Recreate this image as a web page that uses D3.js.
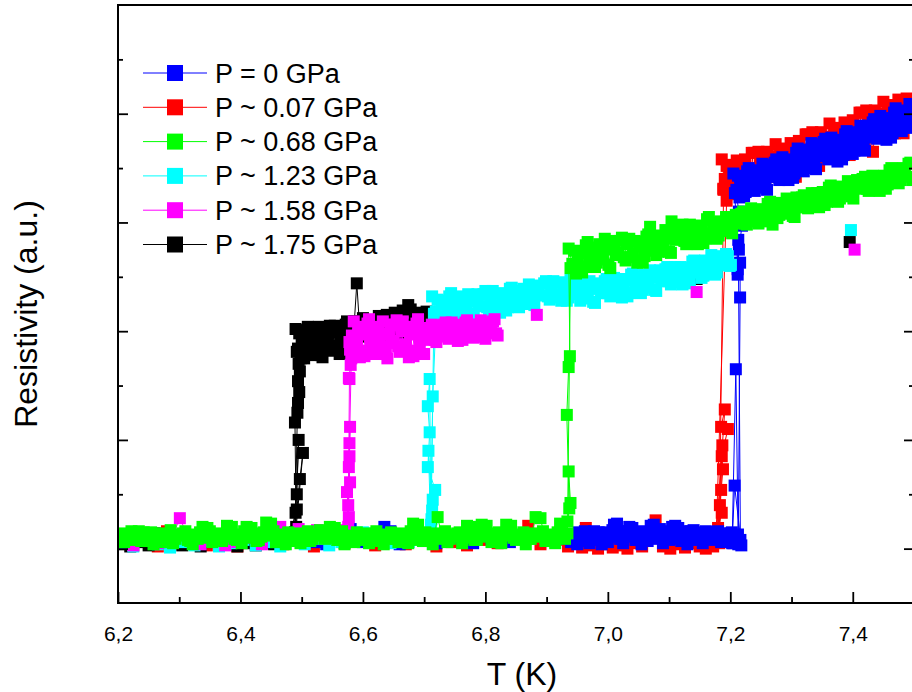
<!DOCTYPE html>
<html>
<head>
<meta charset="utf-8">
<script src="https://cdn.jsdelivr.net/npm/d3@7"></script>
<style>
  html, body { margin: 0; padding: 0; background: #fff; }
  svg { display: block; font-family: Arial, "Liberation Sans", sans-serif; }
</style>
</head>
<body>
<div id="chart"></div>
<script>
// Resistivity vs temperature under pressure — superconducting transitions.
// Each pressure has two temperature runs: [T (K), resistivity (a.u.)];
// null breaks the connecting line.

const seriesNames = ["P = 0 GPa", "P ~ 0.07 GPa", "P ~ 0.68 GPa",
                     "P ~ 1.23 GPa", "P ~ 1.58 GPa", "P ~ 1.75 GPa"];

const xMajorTicks = [6.2, 6.4, 6.6, 6.8, 7.0, 7.2, 7.4];
const xMinorTicks = [6.3, 6.5, 6.7, 6.9, 7.1, 7.3];
const yMajorTicks = [0, 1, 2, 3, 4];
const yMinorTicks = [0.5, 1.5, 2.5, 3.5, 4.5];

// ── P = 0 GPa ──────────────────────────────────────────────────────────────
const p000run1 = [
  [6.21,0.06],[6.24,0.09],[6.27,0.05],[6.30,0.08],[6.33,0.04],[6.36,0.10],[6.39,0.06],[6.42,0.08],
  [6.45,0.05],[6.47,0.09],[6.49,0.15],[6.51,0.12],[6.525,0.06],[6.54,0.04],[6.56,0.08],[6.58,0.18],
  [6.60,0.06],[6.62,0.09],[6.635,0.20],[6.645,0.16],[6.66,0.04],[6.68,0.10],[6.70,0.07],[6.72,0.05],
  [6.75,0.10],[6.78,0.05],[6.81,0.09],[6.84,0.06],[6.87,0.11],[6.90,0.07],[6.93,0.09],
  [6.940,0.06],[6.945,0.10],[6.950,0.04],[6.955,0.12],[6.960,0.07],[6.965,0.14],[6.970,0.05],
  [6.975,0.11],[6.980,0.08],[6.985,0.15],[6.990,0.04],[6.995,0.10],[7.000,0.06],[7.005,0.13],
  [7.010,0.22],[7.015,0.23],[7.020,0.09],[7.025,0.05],[7.030,0.12],[7.035,0.20],[7.040,0.19],
  [7.045,0.08],[7.050,0.14],[7.055,0.04],[7.060,0.11],[7.065,0.07],[7.070,0.21],[7.075,0.22],
  [7.080,0.10],[7.085,0.18],[7.090,0.05],[7.095,0.12],[7.100,0.08],[7.105,0.20],[7.110,0.21],
  [7.115,0.19],[7.120,0.07],[7.125,0.12],[7.130,0.04],[7.135,0.16],[7.140,0.17],[7.145,0.09],
  [7.150,0.13],[7.155,0.05],[7.160,0.16],[7.165,0.15],[7.170,0.08],[7.175,0.12],[7.180,0.16],
  [7.185,0.06],[7.190,0.13],[7.195,0.09],[7.200,0.14],[7.205,0.05],[7.210,0.10],[7.214,0.07],
  [7.218,0.03],
  [7.207,0.58],[7.203,0.05],[7.209,1.65],[7.213,0.04],[7.216,2.31],[7.216,2.63],[7.212,2.52],
  [7.214,2.75],[7.219,2.97],[7.214,3.10],
  [7.205,3.45],[7.210,3.30],[7.215,3.23],[7.220,3.41],[7.225,3.28],[7.230,3.50],[7.235,3.38],
  [7.240,3.29],[7.245,3.48],[7.250,3.36],[7.255,3.45],[7.260,3.30],[7.265,3.53],[7.270,3.44],
  [7.275,3.58],[7.280,3.39],[7.285,3.60],[7.290,3.45],[7.295,3.39],[7.300,3.57],[7.305,3.45],
  [7.310,3.68],[7.315,3.56],[7.320,3.47],[7.325,3.67],[7.330,3.55],[7.335,3.64],[7.340,3.49],
  [7.345,3.72],[7.350,3.63],[7.355,3.77],[7.360,3.58],[7.365,3.78],[7.370,3.63],[7.375,3.56],
  [7.380,3.74],[7.385,3.62],[7.390,3.84],[7.395,3.72],[7.400,3.63],[7.405,3.83],[7.410,3.71],
  [7.415,3.81],[7.420,3.66],[7.425,3.89],[7.430,3.81],[7.435,3.95],[7.440,3.77],[7.445,3.98],
  [7.450,3.83],[7.455,3.76],[7.460,3.94],[7.465,3.82],[7.470,4.05],[7.475,3.93],[7.480,3.84],
  [7.485,4.03],[7.490,3.91],[7.495,4.00]
];
const p000run2 = [
  [6.9425,0.13],[6.9475,0.09],[6.9525,0.15],[6.9575,0.10],[6.9625,0.16],[6.9675,0.08],[6.9725,0.13],
  [6.9775,0.16],[6.9825,0.10],[6.9875,0.14],[6.9925,0.08],[6.9975,0.15],[7.0025,0.11],[7.0075,0.17],
  [7.0125,0.12],[7.0175,0.16],[7.0225,0.09],[7.0275,0.14],[7.0325,0.16],[7.0375,0.11],[7.0425,0.15],
  [7.0475,0.08],[7.0525,0.13],[7.0575,0.16],[7.0625,0.10],[7.0675,0.15],[7.0725,0.12],[7.0775,0.17],
  [7.0825,0.09],[7.0875,0.14],[7.0925,0.16],[7.0975,0.10],[7.1025,0.15],[7.1075,0.12],[7.1125,0.16],
  [7.1175,0.09],[7.1225,0.14],[7.1275,0.16],[7.1325,0.10],[7.1375,0.13],[7.1425,0.08],[7.1475,0.15],
  [7.1525,0.11],[7.1575,0.14],[7.1625,0.09],[7.1675,0.13],[7.1725,0.15],[7.1775,0.10],[7.1825,0.12],
  [7.1875,0.14],[7.1925,0.09],[7.1975,0.12],[7.2025,0.15],[7.2075,0.11],[7.2125,0.13],[7.2165,0.08],
  [7.213,2.84],[7.212,2.57],
  [7.2075,3.27],[7.2125,3.43],[7.2175,3.39],[7.2225,3.24],[7.2275,3.47],[7.2325,3.34],[7.2375,3.46],
  [7.2425,3.32],[7.2475,3.41],[7.2525,3.54],[7.2575,3.33],[7.2625,3.48],[7.2675,3.42],[7.2725,3.55],
  [7.2775,3.42],[7.2825,3.53],[7.2875,3.42],[7.2925,3.58],[7.2975,3.55],[7.3025,3.41],[7.3075,3.64],
  [7.3125,3.52],[7.3175,3.64],[7.3225,3.50],[7.3275,3.60],[7.3325,3.73],[7.3375,3.52],[7.3425,3.67],
  [7.3475,3.61],[7.3525,3.74],[7.3575,3.61],[7.3625,3.71],[7.3675,3.60],[7.3725,3.76],[7.3775,3.72],
  [7.3825,3.58],[7.3875,3.81],[7.3925,3.68],[7.3975,3.80],[7.4025,3.66],[7.4075,3.76],[7.4125,3.89],
  [7.4175,3.69],[7.4225,3.84],[7.4275,3.78],[7.4325,3.92],[7.4375,3.79],[7.4425,3.91],[7.4475,3.80],
  [7.4525,3.96],[7.4575,3.92],[7.4625,3.78],[7.4675,4.01],[7.4725,3.89],[7.4775,4.01],[7.4825,3.87],
  [7.4875,3.96],[7.4925,4.09],[7.4975,3.87]
];

// ── P ~ 0.07 GPa ───────────────────────────────────────────────────────────
const p007run1 = [
  [6.201,0.05],[6.21,0.12],[6.225,0.03],[6.245,0.08],[6.265,0.02],[6.28,0.16],[6.30,0.05],[6.32,0.09],
  [6.345,0.03],[6.37,0.07],[6.395,0.02],[6.42,0.06],[6.445,0.11],[6.47,0.04],[6.495,0.07],[6.52,0.02],
  [6.545,0.08],[6.57,0.05],[6.595,0.10],[6.62,0.03],[6.645,0.07],[6.67,0.04],[6.695,0.09],[6.72,0.02],
  [6.745,0.06],[6.77,0.03],[6.795,0.08],[6.82,0.05],[6.845,0.11],[6.87,0.21],[6.89,0.04],[6.915,0.08],
  [6.935,0.02],[6.947,0.05],[6.958,0.01],[6.964,0.19],[6.972,0.03],[6.984,0.00],[6.996,0.04],
  [7.008,0.01],[7.020,0.03],[7.032,0.00],[7.044,0.05],[7.056,0.02],[7.068,0.14],[7.078,0.26],
  [7.090,0.02],[7.102,0.00],[7.114,0.04],[7.126,0.01],[7.138,0.05],[7.150,0.02],[7.160,0.00],
  [7.168,0.04],[7.172,0.02],
  [7.176,0.15],[7.186,0.33],[7.180,0.19],[7.185,0.54],[7.188,0.73],[7.186,0.85],[7.196,1.10],
  [7.185,1.12],[7.191,1.28],[7.177,0.12],[7.194,3.20],
  [7.186,3.58],[7.191,3.40],[7.197,3.27],[7.202,3.53],[7.208,3.35],[7.213,3.47],[7.219,3.26],
  [7.224,3.58],[7.230,3.44],[7.235,3.64],[7.241,3.36],[7.246,3.65],[7.252,3.45],[7.257,3.34],
  [7.263,3.59],[7.268,3.42],[7.274,3.72],[7.279,3.55],[7.285,3.42],[7.290,3.68],[7.296,3.51],
  [7.301,3.63],[7.307,3.42],[7.312,3.75],[7.318,3.61],[7.323,3.81],[7.329,3.54],[7.334,3.83],
  [7.340,3.63],[7.345,3.52],[7.351,3.77],[7.356,3.60],[7.362,3.91],[7.367,3.74],[7.373,3.61],
  [7.378,3.87],[7.384,3.70],[7.389,3.83],[7.395,3.62],[7.400,3.94],[7.406,3.81],[7.411,4.01],
  [7.417,3.73],[7.422,4.03],[7.428,3.83],[7.433,3.65],[7.439,3.98],[7.444,3.81],[7.450,4.11],
  [7.455,3.94],[7.461,3.82],[7.466,4.08],[7.472,3.91],[7.477,4.03],[7.483,3.82],[7.488,4.14],
  [7.494,4.01]
];
const p007run2 = [
  [7.170,0.03],[7.183,0.40],[7.178,0.08],[7.187,0.95],[7.182,0.05],[7.189,3.30],
  [7.1885,3.31],[7.194,3.52],[7.1995,3.46],[7.205,3.26],[7.2105,3.57],[7.216,3.39],[7.2215,3.54],
  [7.227,3.35],[7.2325,3.47],[7.238,3.64],[7.2435,3.35],[7.249,3.55],[7.2545,3.47],[7.260,3.65],
  [7.2655,3.46],[7.271,3.61],[7.2765,3.46],[7.282,3.67],[7.2875,3.61],[7.293,3.42],[7.2985,3.73],
  [7.304,3.55],[7.3095,3.70],[7.315,3.52],[7.3205,3.64],[7.326,3.81],[7.3315,3.53],[7.337,3.73],
  [7.3425,3.65],[7.348,3.83],[7.3535,3.64],[7.359,3.79],[7.3645,3.65],[7.370,3.86],[7.3755,3.80],
  [7.381,3.61],[7.3865,3.92],[7.392,3.75],[7.3975,3.90],[7.403,3.71],[7.4085,3.84],[7.414,4.01],
  [7.4195,3.72],[7.425,3.93],[7.4305,3.85],[7.436,4.03],[7.4415,3.85],[7.447,4.00],[7.4525,3.85],
  [7.458,4.06],[7.4635,4.01],[7.469,3.82],[7.4745,4.13],[7.480,3.95],[7.4855,4.10],[7.491,3.91],
  [7.4965,4.03]
];

// ── P ~ 0.68 GPa ───────────────────────────────────────────────────────────
const p068run1 = [
  [6.202,0.10],[6.210,0.06],[6.218,0.12],[6.226,0.08],[6.234,0.16],[6.242,0.15],[6.250,0.07],
  [6.258,0.04],[6.266,0.10],[6.274,0.06],[6.282,0.11],[6.290,0.05],[6.298,0.13],[6.306,0.14],
  [6.314,0.08],[6.322,0.04],[6.330,0.09],[6.338,0.20],[6.346,0.19],[6.354,0.06],[6.362,0.11],
  [6.370,0.07],[6.378,0.21],[6.386,0.20],[6.394,0.08],[6.402,0.05],[6.410,0.20],[6.418,0.19],
  [6.426,0.07],[6.434,0.11],[6.442,0.24],[6.450,0.23],[6.458,0.06],[6.466,0.10],[6.474,0.04],
  [6.482,0.09],[6.490,0.12],[6.498,0.05],[6.506,0.10],[6.514,0.07],[6.522,0.12],[6.530,0.17],
  [6.538,0.09],[6.546,0.20],[6.554,0.19],[6.562,0.08],[6.570,0.04],[6.578,0.10],[6.586,0.06],
  [6.594,0.12],[6.602,0.08],[6.610,0.05],[6.618,0.11],[6.626,0.07],[6.634,0.04],[6.642,0.09],
  [6.650,0.13],[6.658,0.06],[6.666,0.10],[6.674,0.05],[6.682,0.23],[6.690,0.22],[6.698,0.07],
  [6.706,0.12],[6.714,0.04],[6.722,0.29],[6.730,0.09],[6.738,0.06],[6.746,0.11],[6.754,0.14],
  [6.762,0.05],[6.770,0.21],[6.778,0.20],[6.786,0.08],[6.794,0.22],[6.802,0.21],[6.810,0.06],
  [6.818,0.10],[6.826,0.05],[6.834,0.22],[6.842,0.21],[6.850,0.08],[6.858,0.11],[6.866,0.04],
  [6.874,0.09],[6.882,0.29],[6.890,0.28],[6.898,0.07],[6.906,0.11],[6.914,0.05],[6.922,0.23],
  [6.930,0.09],
  [6.934,0.25],[6.939,0.42],[6.936,0.71],[6.937,0.37],[6.933,1.23],[6.936,1.67],[6.938,1.77],
  [6.936,2.76],[6.942,2.62],[6.948,2.53],[6.955,2.72],[6.961,2.59],[6.967,2.82],[6.973,2.69],
  [6.979,2.59],[6.986,2.80],[6.992,2.66],[6.998,2.75],[7.004,2.58],[7.010,2.83],[7.017,2.72],
  [7.023,2.86],[7.029,2.65],[7.035,2.85],[7.041,2.71],[7.048,2.63],[7.054,2.82],[7.060,2.69],
  [7.066,2.89],[7.069,2.96],[7.072,2.78],[7.079,2.70],[7.085,2.88],[7.091,2.77],[7.097,2.85],
  [7.103,2.72],[7.104,3.01],[7.110,2.94],[7.116,2.85],[7.122,2.98],[7.128,2.80],[7.134,2.98],
  [7.141,2.86],[7.147,2.80],[7.153,2.97],[7.159,2.85],[7.165,3.05],[7.172,2.94],[7.178,2.85],
  [7.184,3.01],[7.190,2.93],[7.196,3.00],[7.203,2.90],[7.209,3.07],[7.215,3.00],[7.221,3.10],
  [7.227,2.98],[7.234,3.13],[7.240,3.04],[7.246,2.99],[7.252,3.12],[7.258,3.04],[7.265,3.19],
  [7.269,2.98],[7.271,3.11],[7.277,3.04],[7.283,3.18],[7.289,3.10],[7.296,3.16],[7.302,3.06],
  [7.305,3.05],[7.308,3.23],[7.314,3.15],[7.320,3.25],[7.327,3.13],[7.333,3.27],[7.339,3.19],
  [7.345,3.14],[7.351,3.28],[7.358,3.19],[7.364,3.34],[7.370,3.26],[7.376,3.19],[7.382,3.33],
  [7.389,3.26],[7.395,3.32],[7.401,3.22],[7.407,3.39],[7.413,3.32],[7.420,3.42],[7.426,3.29],
  [7.432,3.43],[7.438,3.35],[7.444,3.29],[7.451,3.43],[7.457,3.35],[7.463,3.50],[7.469,3.42],
  [7.475,3.36],[7.482,3.50],[7.488,3.42],[7.494,3.55]
];
const p068run2 = [
  [6.206,0.14],[6.214,0.09],[6.222,0.16],[6.230,0.11],[6.238,0.07],[6.246,0.13],[6.254,0.15],
  [6.262,0.08],[6.270,0.14],[6.278,0.10],[6.286,0.17],[6.294,0.09],[6.302,0.12],[6.310,0.16],
  [6.318,0.07],[6.326,0.13],[6.334,0.15],[6.342,0.10],[6.350,0.16],[6.358,0.08],[6.366,0.14],
  [6.374,0.11],[6.382,0.15],[6.390,0.09],[6.398,0.13],[6.406,0.16],[6.414,0.10],[6.422,0.14],
  [6.430,0.08],[6.438,0.15],[6.446,0.12],[6.454,0.16],[6.462,0.09],[6.470,0.13],[6.478,0.15],
  [6.486,0.07],[6.494,0.14],[6.502,0.11],[6.510,0.16],[6.518,0.09],[6.526,0.13],[6.534,0.15],
  [6.542,0.10],[6.550,0.14],[6.558,0.08],[6.566,0.16],[6.574,0.12],[6.582,0.09],[6.590,0.15],
  [6.598,0.11],[6.606,0.14],[6.614,0.08],[6.622,0.16],[6.630,0.10],[6.638,0.13],[6.646,0.15],
  [6.654,0.09],[6.662,0.14],[6.670,0.11],[6.678,0.16],[6.686,0.08],[6.694,0.13],[6.702,0.15],
  [6.710,0.10],[6.718,0.14],[6.726,0.12],[6.734,0.16],[6.742,0.09],[6.750,0.13],[6.758,0.15],
  [6.766,0.10],[6.774,0.14],[6.782,0.08],[6.790,0.16],[6.798,0.11],[6.806,0.14],[6.814,0.09],
  [6.822,0.15],[6.830,0.12],[6.838,0.16],[6.846,0.10],[6.854,0.13],[6.862,0.15],[6.870,0.09],
  [6.878,0.14],[6.886,0.11],[6.894,0.16],[6.902,0.08],[6.910,0.13],[6.918,0.15],[6.926,0.10],
  [6.934,0.14],
  [6.939,2.58],[6.945,2.74],[6.951,2.69],[6.958,2.54],[6.964,2.79],[6.970,2.65],[6.976,2.77],
  [6.982,2.63],[6.989,2.71],[6.995,2.85],[7.001,2.61],[7.007,2.77],[7.013,2.70],[7.020,2.83],
  [7.026,2.68],[7.032,2.80],[7.038,2.68],[7.044,2.83],[7.051,2.78],[7.057,2.63],[7.063,2.87],
  [7.069,2.74],[7.075,2.85],[7.082,2.73],[7.088,2.81],[7.094,2.93],[7.100,2.73],[7.106,2.89],
  [7.113,2.84],[7.119,2.95],[7.125,2.83],[7.131,2.93],[7.137,2.83],[7.144,2.97],[7.150,2.93],
  [7.156,2.81],[7.162,3.03],[7.168,2.90],[7.175,3.00],[7.181,2.88],[7.187,2.96],[7.193,3.05],
  [7.199,2.92],[7.206,3.03],[7.212,2.99],[7.218,3.08],[7.224,2.99],[7.230,3.09],[7.237,3.01],
  [7.243,3.12],[7.249,3.10],[7.255,3.01],[7.261,3.17],[7.268,3.08],[7.274,3.16],[7.280,3.07],
  [7.286,3.13],[7.292,3.22],[7.299,3.08],[7.305,3.19],[7.311,3.14],[7.317,3.23],[7.323,3.14],
  [7.330,3.24],[7.336,3.16],[7.342,3.27],[7.348,3.25],[7.354,3.16],[7.361,3.32],[7.367,3.23],
  [7.373,3.31],[7.379,3.22],[7.385,3.28],[7.392,3.38],[7.398,3.24],[7.404,3.35],[7.410,3.31],
  [7.416,3.40],[7.423,3.31],[7.429,3.40],[7.435,3.32],[7.441,3.42],[7.447,3.40],[7.454,3.31],
  [7.460,3.48],[7.466,3.39],[7.472,3.48],[7.478,3.39],[7.485,3.45],[7.491,3.54],[7.497,3.39]
];

// ── P ~ 1.23 GPa ───────────────────────────────────────────────────────────
const p123run1 = [
  [6.205,0.05],[6.225,0.02],[6.245,0.08],[6.265,0.04],[6.285,0.01],[6.305,0.06],[6.325,0.03],
  [6.345,0.07],[6.365,0.02],[6.385,0.05],[6.405,0.08],[6.425,0.03],[6.445,0.06],[6.465,0.02],
  [6.485,0.07],[6.505,0.04],[6.525,0.09],[6.545,0.03],[6.565,0.06],[6.585,0.10],[6.600,0.15],
  [6.615,0.14],[6.630,0.12],[6.645,0.05],[6.660,0.09],[6.675,0.06],[6.690,0.11],[6.702,0.08],
  [6.712,0.27],[6.714,0.45],[6.718,0.54],[6.706,0.75],[6.709,1.07],[6.706,1.31],[6.709,1.56],
  [6.711,0.22],[6.716,2.15],
  [6.713,2.32],[6.719,2.18],[6.725,2.10],[6.731,2.28],[6.738,2.15],[6.744,2.35],[6.750,2.23],
  [6.756,2.14],[6.762,2.32],[6.769,2.19],[6.775,2.27],[6.781,2.14],[6.787,2.34],[6.793,2.23],
  [6.800,2.37],[6.806,2.18],[6.812,2.37],[6.818,2.23],[6.824,2.17],[6.831,2.34],[6.837,2.22],
  [6.843,2.40],[6.849,2.30],[6.855,2.22],[6.862,2.39],[6.868,2.27],[6.874,2.36],[6.880,2.24],
  [6.886,2.42],[6.893,2.33],[6.899,2.46],[6.905,2.29],[6.911,2.46],[6.917,2.33],[6.924,2.28],
  [6.930,2.43],[6.936,2.31],[6.942,2.47],[6.948,2.37],[6.955,2.28],[6.961,2.44],[6.967,2.31],
  [6.973,2.39],[6.979,2.26],[6.986,2.44],[6.992,2.35],[6.998,2.48],[7.004,2.32],[7.010,2.49],
  [7.017,2.36],[7.023,2.31],[7.029,2.47],[7.035,2.35],[7.041,2.53],[7.048,2.44],[7.054,2.35],
  [7.060,2.52],[7.066,2.40],[7.072,2.49],[7.079,2.37],[7.085,2.56],[7.091,2.46],[7.097,2.59],
  [7.103,2.43],[7.110,2.59],[7.116,2.47],[7.122,2.43],[7.128,2.58],[7.134,2.47],[7.141,2.65],
  [7.147,2.57],[7.153,2.49],[7.159,2.65],[7.165,2.54],[7.172,2.63],[7.178,2.54],[7.184,2.69],
  [7.190,2.61],[7.196,2.69],[7.201,2.61],
  null,
  [7.397,2.93]
];
const p123run2 = [
  [6.700,0.12],[6.713,0.35],[6.707,0.90],[6.711,0.15],[6.714,1.40],[6.719,2.05],
  [6.716,2.16],[6.722,2.29],[6.728,2.25],[6.734,2.13],[6.741,2.32],[6.747,2.20],[6.753,2.30],
  [6.759,2.17],[6.766,2.24],[6.772,2.34],[6.778,2.16],[6.784,2.28],[6.790,2.23],[6.797,2.34],
  [6.803,2.22],[6.809,2.31],[6.815,2.21],[6.821,2.35],[6.828,2.31],[6.834,2.19],[6.840,2.39],
  [6.846,2.27],[6.852,2.37],[6.859,2.25],[6.865,2.32],[6.871,2.43],[6.877,2.25],[6.883,2.37],
  [6.890,2.33],[6.896,2.44],[6.902,2.32],[6.908,2.41],[6.914,2.31],[6.921,2.45],[6.927,2.40],
  [6.933,2.28],[6.939,2.47],[6.945,2.34],[6.952,2.43],[6.958,2.30],[6.964,2.37],[6.970,2.46],
  [6.976,2.27],[6.983,2.39],[6.989,2.35],[6.995,2.46],[7.001,2.35],[7.007,2.44],[7.014,2.34],
  [7.020,2.48],[7.026,2.44],[7.032,2.32],[7.038,2.52],[7.045,2.41],[7.051,2.50],[7.057,2.38],
  [7.063,2.45],[7.069,2.56],[7.076,2.38],[7.082,2.51],[7.088,2.46],[7.094,2.57],[7.100,2.46],
  [7.107,2.54],[7.113,2.45],[7.119,2.59],[7.125,2.55],[7.131,2.44],[7.138,2.64],[7.144,2.54],
  [7.150,2.63],[7.156,2.51],[7.162,2.59],[7.169,2.70],[7.175,2.52],[7.181,2.65],[7.187,2.61],
  [7.193,2.71],[7.199,2.60]
];

// ── P ~ 1.58 GPa ───────────────────────────────────────────────────────────
const p158run1 = [
  [6.205,0.07],[6.225,0.03],[6.245,0.09],[6.265,0.05],[6.285,0.06],[6.301,0.28],[6.315,0.10],
  [6.335,0.04],[6.355,0.08],[6.375,0.03],[6.395,0.06],[6.415,0.10],[6.435,0.04],[6.450,0.16],
  [6.465,0.20],[6.480,0.13],[6.495,0.18],[6.510,0.08],[6.525,0.17],[6.540,0.12],[6.555,0.15],
  [6.565,0.09],[6.572,0.17],
  [6.577,0.29],[6.574,0.52],[6.579,0.61],[6.577,0.75],[6.578,0.97],[6.579,1.12],[6.576,0.20],
  [6.578,1.56],
  [6.577,1.57],[6.580,1.69],[6.579,1.83],[6.582,1.96],
  [6.585,2.09],[6.590,1.88],[6.595,1.76],[6.600,2.00],[6.605,1.82],[6.610,2.11],[6.615,1.93],
  [6.620,1.79],[6.625,2.04],[6.630,1.86],[6.635,1.97],[6.640,1.75],[6.645,2.06],[6.650,1.91],
  [6.655,2.10],[6.660,1.81],[6.665,2.09],[6.670,1.88],[6.675,1.76],[6.680,2.00],[6.685,1.82],
  [6.690,2.11],[6.695,1.93],[6.700,1.79],[6.705,2.03],[6.710,1.94],[6.715,2.00],[6.720,1.90],
  [6.725,2.05],[6.730,1.98],[6.735,2.08],[6.740,1.93],[6.745,2.08],[6.750,1.97],[6.755,1.91],
  [6.760,2.04],[6.765,1.95],[6.770,2.10],[6.775,2.01],[6.780,1.94],[6.785,2.06],[6.790,1.97],
  [6.795,2.04],[6.800,1.93],[6.805,2.08],[6.810,2.01],[6.815,2.11],[6.820,1.96],
  null,
  [6.884,2.15],
  null,
  [7.145,2.36],
  null,
  [7.403,2.75]
];
const p158run2 = [
  [6.570,0.10],[6.576,0.40],[6.578,0.85],[6.575,0.15],[6.581,1.75],[6.578,1.90],
  [6.5875,1.84],[6.5925,2.04],[6.5975,1.97],[6.6025,1.77],[6.6075,2.07],[6.6125,1.88],[6.6175,2.02],
  [6.6225,1.82],[6.6275,1.93],[6.6325,2.09],[6.6375,1.79],[6.6425,1.98],[6.6475,1.89],[6.6525,2.06],
  [6.6575,1.86],[6.6625,2.00],[6.6675,1.84],[6.6725,2.04],[6.6775,1.97],[6.6825,1.77],[6.6875,2.07],
  [6.6925,1.88],[6.6975,2.02],[6.7025,1.92],[6.7075,1.98],[6.7125,2.06],[6.7175,1.92],[6.7225,2.02],
  [6.7275,1.97],[6.7325,2.06],[6.7375,1.95],[6.7425,2.04],[6.7475,1.95],[6.7525,2.06],[6.7575,2.02],
  [6.7625,1.92],[6.7675,2.08],[6.7725,1.98],[6.7775,2.06],[6.7825,1.95],[6.7875,2.01],[6.7925,2.10],
  [6.7975,1.95],[6.8025,2.05],[6.8075,2.00],[6.8125,2.09],[6.8175,1.98]
];

// ── P ~ 1.75 GPa ───────────────────────────────────────────────────────────
const p175run1 = [
  [6.205,0.04],[6.220,0.02],[6.235,0.06],[6.250,0.03],[6.260,0.14],[6.275,0.05],[6.290,0.10],
  [6.305,0.03],[6.320,0.07],[6.335,0.02],[6.350,0.06],[6.365,0.03],[6.380,0.08],[6.395,0.02],
  [6.410,0.05],[6.425,0.03],[6.440,0.07],[6.455,0.04],[6.470,0.06],[6.482,0.12],
  [6.490,0.33],[6.492,0.36],[6.497,0.64],[6.502,0.88],[6.491,0.20],[6.489,1.16],[6.494,1.34],
  [6.496,1.44],[6.494,1.54],[6.497,1.63],
  [6.490,2.02],[6.494,1.84],[6.498,1.75],[6.502,1.95],[6.506,1.80],[6.510,2.04],[6.514,1.90],
  [6.518,1.78],[6.522,1.99],[6.526,1.84],[6.530,1.93],[6.534,1.76],[6.538,2.01],[6.542,1.89],
  [6.546,2.05],[6.550,1.82],[6.554,2.05],[6.558,1.87],[6.562,1.79],[6.566,1.99],[6.570,1.85],
  [6.574,2.09],[6.578,1.94],[6.582,1.82],[6.586,2.09],[6.590,2.44],[6.594,2.09],
  [6.600,2.12],[6.606,1.95],[6.613,2.10],[6.619,2.01],[6.626,2.14],[6.632,1.92],[6.639,2.15],
  [6.645,2.03],[6.652,2.17],[6.658,1.98],[6.665,2.19],[6.671,2.06],[6.674,2.24],[6.678,2.20],
  [6.684,2.10],[6.691,2.17],[6.697,2.04],[6.704,2.18],[6.710,2.09],[6.717,2.14],[6.723,2.06],
  [6.728,2.12],
  null,
  [7.145,2.48],
  null,
  [7.395,2.82]
];
const p175run2 = [
  [6.484,0.08],[6.492,0.50],[6.495,1.00],[6.489,0.15],[6.493,1.25],[6.495,1.70],
  [6.492,1.81],[6.496,1.98],[6.500,1.92],[6.504,1.75],[6.508,2.01],[6.512,1.85],[6.516,1.98],
  [6.520,1.81],[6.524,1.90],[6.528,2.04],[6.532,1.78],[6.536,1.96],[6.540,1.88],[6.544,2.02],
  [6.548,1.86],[6.552,1.99],[6.556,1.86],[6.560,2.03],[6.564,1.97],[6.568,1.80],[6.572,2.06],
  [6.576,1.89],[6.580,2.03],[6.584,1.86],[6.588,1.95]
];

const runs = [
  [p000run1, p000run2], [p007run1, p007run2], [p068run1, p068run2],
  [p123run1, p123run2], [p158run1, p158run2], [p175run1, p175run2]
];

// ── Styling ────────────────────────────────────────────────────────────────
const colors    = ["#0000ff", "#ff0000", "#00ff00", "#00ffff", "#ff00ff", "#000000"];
const drawOrder = [1, 0, 5, 3, 4, 2];   // green sits on top, as in the scan
const W = 912, H = 692;
const plot = { left: 118, right: 914, top: 5, bottom: 603 };
const markerSize = 12;

const svg = d3.select("#chart").append("svg")
  .attr("width", W)
  .attr("height", H);

const x = d3.scaleLinear().domain([6.2, 7.5]).range([plot.left, plot.right]);
const y = d3.scaleLinear().domain([-0.5, 5]).range([plot.bottom, plot.top]);

svg.append("clipPath").attr("id", "plot-clip")
  .append("rect")
  .attr("x", plot.left).attr("y", plot.top)
  .attr("width", plot.right - plot.left)
  .attr("height", plot.bottom - plot.top);

// ── Series ─────────────────────────────────────────────────────────────────
const gData = svg.append("g").attr("clip-path", "url(#plot-clip)");

const line = d3.line()
  .defined(d => d !== null)
  .x(d => x(d[0]))
  .y(d => y(d[1]));

drawOrder.forEach(i => {
  const g = gData.append("g").attr("class", "series-" + i);
  runs[i].forEach(run => {
    g.append("path")
      .attr("d", line(run))
      .attr("fill", "none")
      .attr("stroke", colors[i])
      .attr("stroke-width", 1);
  });
  const pts = runs[i].flat().filter(d => d !== null);
  g.selectAll("rect")
    .data(pts)
    .join("rect")
    .attr("x", d => x(d[0]) - markerSize / 2)
    .attr("y", d => y(d[1]) - markerSize / 2)
    .attr("width", markerSize)
    .attr("height", markerSize)
    .attr("fill", colors[i]);
});

// ── Axes (ticks point inward) ──────────────────────────────────────────────
const styleAxis = g => {
  g.select(".domain").remove();
  g.selectAll(".tick line").attr("stroke", "#000").attr("stroke-width", 1.8);
};

svg.append("g")
  .attr("transform", `translate(0,${plot.bottom})`)
  .call(d3.axisBottom(x).tickValues(xMajorTicks).tickSize(-11).tickPadding(23)
    .tickFormat(d => d3.format(".1f")(d).replace(".", ",")))
  .call(styleAxis)
  .call(g => g.selectAll("text")
    .attr("fill", "#000")
    .style("font-size", "21px")
    .style("font-family", "Arial, 'Liberation Sans', sans-serif"));

svg.append("g")
  .attr("transform", `translate(0,${plot.bottom})`)
  .call(d3.axisBottom(x).tickValues(xMinorTicks).tickSize(-6).tickFormat(""))
  .call(styleAxis);

[[d3.axisLeft, plot.left], [d3.axisRight, plot.right]].forEach(([axis, px]) => {
  svg.append("g")
    .attr("transform", `translate(${px},0)`)
    .call(axis(y).tickValues(yMajorTicks).tickSize(-10).tickFormat(""))
    .call(styleAxis);
  svg.append("g")
    .attr("transform", `translate(${px},0)`)
    .call(axis(y).tickValues(yMinorTicks).tickSize(-5).tickFormat(""))
    .call(styleAxis);
});

svg.append("rect")
  .attr("x", plot.left).attr("y", plot.top)
  .attr("width", plot.right - plot.left)
  .attr("height", plot.bottom - plot.top)
  .attr("fill", "none")
  .attr("stroke", "#000")
  .attr("stroke-width", 2);

// ── Axis titles ────────────────────────────────────────────────────────────
svg.append("text")
  .attr("x", 522).attr("y", 685)
  .attr("text-anchor", "middle")
  .style("font-size", "32px")
  .text("T (K)");

svg.append("text")
  .attr("transform", "translate(37,314) rotate(-90)")
  .attr("text-anchor", "middle")
  .style("font-size", "32px")
  .text("Resistivity (a.u.)");

// ── Legend ─────────────────────────────────────────────────────────────────
const legend = svg.append("g").attr("transform", "translate(143,73)");
const row = legend.selectAll("g")
  .data(seriesNames)
  .join("g")
  .attr("transform", (d, i) => `translate(0,${i * 34.3})`);

row.append("line")
  .attr("x1", 0).attr("x2", 64)
  .attr("stroke", (d, i) => colors[i])
  .attr("stroke-width", 1);
row.append("rect")
  .attr("x", 24).attr("y", -8)
  .attr("width", 16).attr("height", 16)
  .attr("fill", (d, i) => colors[i]);
row.append("text")
  .attr("x", 72).attr("y", 9.5)
  .style("font-size", "27px")
  .text(d => d);
</script>
</body>
</html>
